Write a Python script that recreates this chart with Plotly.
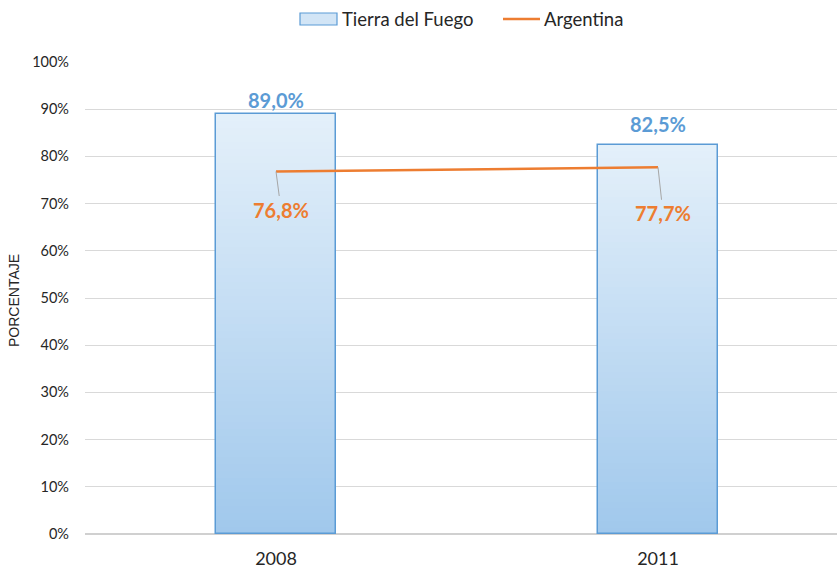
import plotly.graph_objects as go

# Data
years = ["2008", "2011"]
tierra_del_fuego = [89.0, 82.5]
argentina = [76.8, 77.7]
y_ticks = [0, 10, 20, 30, 40, 50, 60, 70, 80, 90, 100]
y_tick_text = [f"{t}%" for t in y_ticks]

BLUE = "#5b9bd5"
ORANGE = "#ed7d31"
TEXT = "#262626"
FONT = "Lato"

W, H = 837, 570
M_L, M_R, M_T, M_B = 85, 0, 62, 36
PLOT_W = W - M_L - M_R
PLOT_H = H - M_T - M_B


def px_x(px):
    """Pixel column -> paper x."""
    return (px - M_L) / PLOT_W


def px_y(py):
    """Pixel row -> paper y."""
    return (H - M_B - py) / PLOT_H


x_pos = list(range(len(years)))
bar_width = 0.314

# vertical gradient (light top, darker bottom) built from overlaid bars
top_rgb = (228, 240, 250)
bot_rgb = (160, 200, 236)
n_steps = 60


def lerp(a, b, t):
    return tuple(round(a[i] + (b[i] - a[i]) * t) for i in range(3))


fig = go.Figure()
for k in range(n_steps):
    frac = (n_steps - k) / n_steps
    h = (n_steps - k - 0.5) / n_steps
    r, g, b = lerp(bot_rgb, top_rgb, h)
    fig.add_trace(go.Bar(
        x=x_pos, y=[v * frac for v in tierra_del_fuego], width=bar_width,
        marker=dict(color=f"rgb({r},{g},{b})", line=dict(width=0)),
        name="Tierra del Fuego", showlegend=False, hoverinfo="skip",
    ))

# bar outline on top of the gradient
fig.add_trace(go.Bar(
    x=x_pos, y=tierra_del_fuego, width=bar_width, name="Tierra del Fuego",
    marker=dict(color="rgba(0,0,0,0)", line=dict(width=1.5, color=BLUE)),
    showlegend=False,
))

fig.add_trace(go.Scatter(
    x=x_pos, y=argentina, mode="lines", name="Argentina",
    line=dict(color=ORANGE, width=2.5), showlegend=False,
))

# value labels above the bars
bar_label_shift = [14, 21]
for i, v in enumerate(tierra_del_fuego):
    fig.add_annotation(
        x=x_pos[i], y=v, text=f"{v:.1f}%".replace(".", ","),
        showarrow=False, yanchor="middle", yshift=bar_label_shift[i],
        font=dict(family=FONT, size=20, color=BLUE, weight="bold"),
    )

# line labels with leader lines
line_label_offset = [(5, 38), (5, 46)]
for i, v in enumerate(argentina):
    ax, ay = line_label_offset[i]
    fig.add_annotation(
        x=x_pos[i], y=v, text=f"{v:.1f}%".replace(".", ","),
        showarrow=True, arrowhead=0, arrowwidth=1, arrowcolor="#a6a6a6",
        ax=ax, ay=ay, standoff=0,
        font=dict(family=FONT, size=20, color=ORANGE, weight="bold"),
    )

# legend: bar swatch + line swatch with their labels
fig.add_shape(type="rect", xref="paper", yref="paper",
              x0=px_x(300), x1=px_x(337), y0=px_y(25), y1=px_y(13),
              fillcolor="#d2e5f6", line=dict(color=BLUE, width=1.2))
fig.add_annotation(xref="paper", yref="paper", x=px_x(340), y=px_y(19),
                   text="Tierra del Fuego", showarrow=False,
                   xanchor="left", yanchor="middle",
                   font=dict(family=FONT, size=18.5, color=TEXT))
fig.add_shape(type="line", xref="paper", yref="paper",
              x0=px_x(503), x1=px_x(540), y0=px_y(19), y1=px_y(19),
              line=dict(color=ORANGE, width=2.5))
fig.add_annotation(xref="paper", yref="paper", x=px_x(542), y=px_y(19),
                   text="Argentina", showarrow=False,
                   xanchor="left", yanchor="middle",
                   font=dict(family=FONT, size=18.5, color=TEXT))

# y-axis title
fig.add_annotation(xref="paper", yref="paper", x=px_x(14), y=px_y(301),
                   text="PORCENTAJE", showarrow=False, textangle=-90,
                   xanchor="center", yanchor="middle",
                   font=dict(family="Liberation Sans", size=14, color=TEXT))

fig.update_layout(
    width=W, height=H,
    margin=dict(l=M_L, r=M_R, t=M_T, b=M_B),
    barmode="overlay", bargap=0,
    paper_bgcolor="white", plot_bgcolor="white",
    font=dict(family=FONT, color=TEXT),
    showlegend=False,
    xaxis=dict(
        range=[-0.5, 1.4686], tickvals=x_pos, ticktext=years,
        showgrid=False, zeroline=False, showline=False,
        tickfont=dict(family=FONT, size=18, color=TEXT),
        ticklabelstandoff=12,
    ),
    yaxis=dict(
        range=[0, 100], tickvals=y_ticks, ticktext=y_tick_text,
        showgrid=True, gridcolor="#d9d9d9", gridwidth=1,
        zeroline=True, zerolinecolor="#d0d0d0", zerolinewidth=1.5,
        showline=False,
        tickfont=dict(family=FONT, size=14.5, color=TEXT),
        ticklabelstandoff=15,
    ),
)

fig.write_html("out.html")
